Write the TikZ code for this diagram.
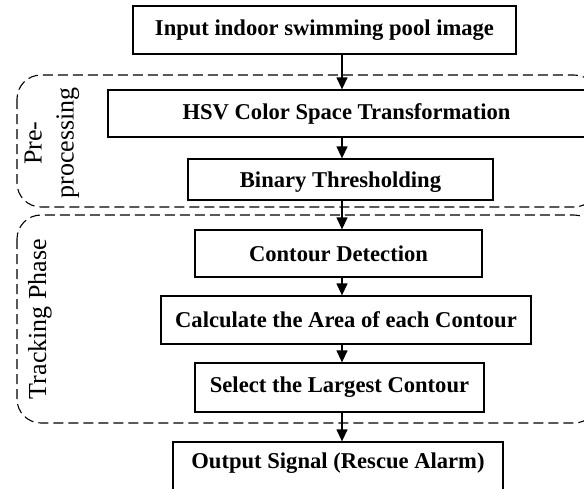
\documentclass[tikz,border=0pt]{standalone}
\usepackage{fontspec}
\setmainfont{Liberation Serif}
\usetikzlibrary{arrows.meta}

\begin{document}
\begin{tikzpicture}[x=0.5pt,y=-0.5pt,>={Triangle[length=6pt,width=5.5pt]},
    block/.style={draw,line width=0.65pt,inner sep=0pt,
      font=\fontsize{11.3}{13}\selectfont\bfseries},
    phase/.style={draw,dash pattern=on 5pt off 2.5pt,line width=0.55pt,rounded corners=12pt},
    tag/.style={rotate=90,align=center,font=\fontsize{13}{16}\selectfont},
    flow/.style={->,line width=0.65pt}]
  \clip (0,0) rectangle (584,488);
  \coordinate (col) at (342,0);

  % the two phases
  \draw[phase] (17,75) rectangle (598,207);
  \draw[phase] (17,215) rectangle (598,423);
  \node[tag] (pre)   at (52,143) {Pre-\\processing};
  \node[tag] (track) at (40,319) {Tracking Phase};

  \node[block,minimum width=191.5pt,minimum height=24pt]
                     (input)   at (324.5,30)  {Input indoor swimming pool image};
  \node[block,minimum width=238.5pt,minimum height=23.5pt]
                     (hsv)     at (346.5,113.5) {HSV Color Space Transformation};
  \node[block,minimum width=152.5pt,minimum height=20.5pt]
                     (binary)  at (340.5,179.5) {\raisebox{-1.5pt}[\height][\depth]{Binary Thresholding}};
  \node[block,minimum width=143.5pt,minimum height=23.5pt]
                     (contour) at (338.5,253.5) {Contour Detection};
  \node[block,minimum width=185pt,minimum height=24pt]
                     (area)    at (346,320)   {Calculate the Area of each Contour};
  \node[block,minimum width=144.5pt,minimum height=24.5pt]
                     (largest) at (339.5,387.5) {Select the Largest Contour};
  \node[block,minimum width=165pt,minimum height=24pt]
                     (output)  at (338,466)   {\raisebox{1.5pt}[\height][\depth]{Output Signal (Rescue Alarm)}};

  \draw[flow] (input.south -| col)   -- (hsv.north -| col);
  \draw[flow] (hsv.south -| col)     -- (binary.north -| col);
  \draw[flow] (binary.south -| col)  -- (contour.north -| col);
  \draw[flow] (contour.south -| col) -- (area.north -| col);
  \draw[flow] (area.south -| col)    -- (largest.north -| col);
  \draw[flow] (largest.south -| col) -- (output.north -| col);
\end{tikzpicture}
\end{document}
